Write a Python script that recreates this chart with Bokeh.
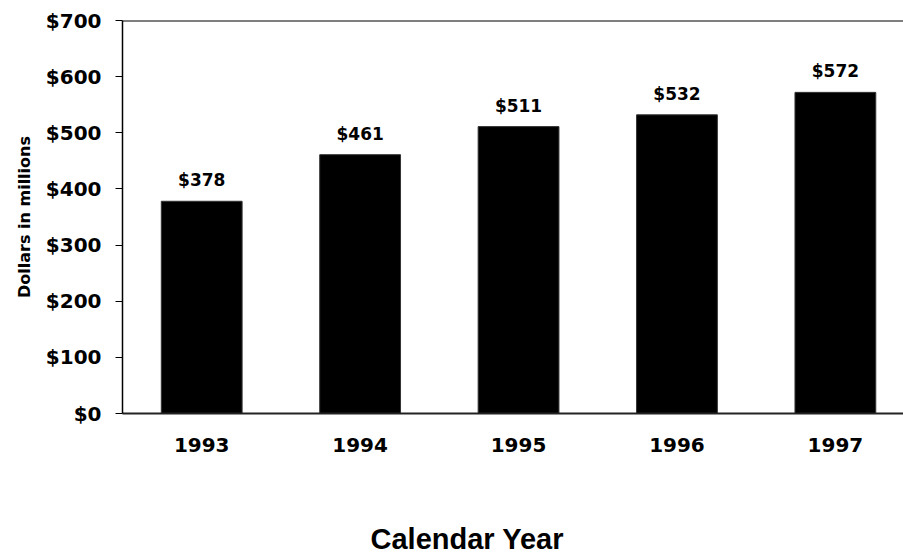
from bokeh.plotting import figure
from bokeh.models import (Range1d, ColumnDataSource, LabelSet, Span, FixedTicker, PrintfTickFormatter,
                          Title, LinearAxis)
from bokeh.core.properties import value
from bokeh.embed import file_html
from bokeh.resources import INLINE

years = ["1993", "1994", "1995", "1996", "1997"]
values = [378, 461, 511, 532, 572]
value_labels = ["$378", "$461", "$511", "$532", "$572"]
y_ticks = [0, 100, 200, 300, 400, 500, 600, 700]

WIDE = "DejaVu Sans"
ARIAL = "Liberation Sans"

xs = list(range(len(years)))
src = ColumnDataSource(dict(x=xs, top=values, lab=value_labels))

p = figure(width=903, height=556, output_backend="svg", toolbar_location=None,
           x_range=Range1d(-0.5, 4.43), y_range=Range1d(0, 700),
           min_border_left=122, min_border_right=0, min_border_top=20, min_border_bottom=143)
p.outline_line_color = None
p.xgrid.grid_line_color = None
p.ygrid.grid_line_color = None
p.background_fill_color = "white"
p.border_fill_color = "white"

p.vbar(x="x", top="top", width=0.51, bottom=0, source=src, fill_color="black", line_color="#333333")

labels = LabelSet(x="x", y="top", text="lab", source=src, text_align="center", text_baseline="middle",
                  y_offset=21, text_font=value(WIDE), text_font_style="bold", text_font_size="17px",
                  text_color="black")
p.add_layout(labels)

# y axis
ya = p.yaxis[0]
ya.ticker = FixedTicker(ticks=y_ticks)
ya.formatter = PrintfTickFormatter(format="$%d")
ya.major_tick_out = 7
ya.major_tick_in = 0
ya.minor_tick_line_color = None
ya.major_label_standoff = 14
ya.major_label_text_font = WIDE
ya.major_label_text_font_style = "bold"
ya.major_label_text_font_size = "20px"
ya.major_label_text_color = "black"
ya.axis_line_color = "black"
ya.axis_line_width = 1.5
ya.major_tick_line_color = "black"
ya.axis_label = "Dollars in millions"
ya.axis_label_text_font = WIDE
ya.axis_label_text_font_style = "bold"
ya.axis_label_text_font_size = "16px"
ya.axis_label_text_color = "black"
ya.axis_label_standoff = 9

# x axis
xa = p.xaxis[0]
xa.ticker = FixedTicker(ticks=xs)
xa.major_label_overrides = {i: y for i, y in zip(xs, years)}
xa.major_tick_line_color = None
xa.major_tick_out = 0
xa.major_tick_in = 0
xa.minor_tick_line_color = None
xa.minor_tick_out = 0
xa.major_label_standoff = 24
xa.major_label_text_font = WIDE
xa.major_label_text_font_style = "bold"
xa.major_label_text_font_size = "20px"
xa.major_label_text_color = "black"
xa.axis_line_color = "#222222"
xa.axis_line_width = 2

# blank spacer axis (one white tick, empty label) to push the x title down
spacer = LinearAxis(ticker=FixedTicker(ticks=[0]), axis_line_color=None, major_tick_line_color="white",
                    minor_tick_line_color=None, major_tick_out=66, major_tick_in=0, minor_tick_out=0,
                    major_label_standoff=0, major_label_overrides={0: ""},
                    major_label_text_font_size="1px")
p.add_layout(spacer, "below")

# top line
p.add_layout(Span(location=700, dimension="width", line_color="black", line_width=2))

title = Title(text="Calendar Year", align="left", offset=248, standoff=0, vertical_align="bottom",
              text_font=ARIAL, text_font_style="bold", text_font_size="29px", text_color="black")
p.add_layout(title, "below")

open("out.html", "w").write(file_html(p, INLINE))
